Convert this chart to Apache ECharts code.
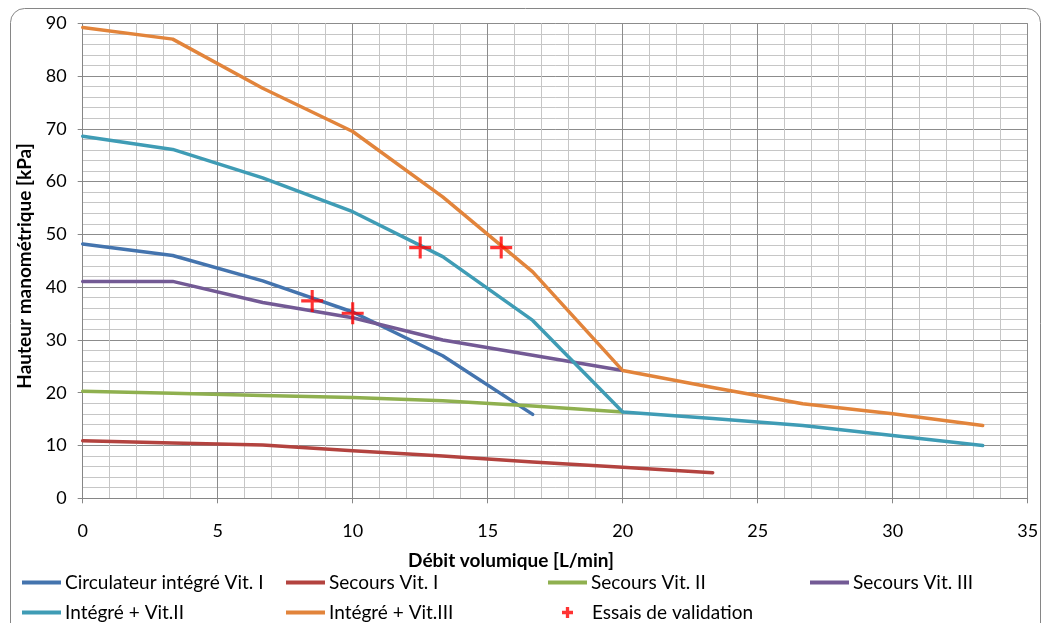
<!DOCTYPE html>
<html>
<head>
<meta charset="utf-8">
<script src="https://cdn.jsdelivr.net/npm/echarts@6/dist/echarts.min.js"></script>
<style>
html,body{margin:0;padding:0;background:#fff;}
#c{width:1050px;height:623px;}
</style>
</head>
<body>
<div id="c"></div>
<script>
// Flow rates (L/min)
const flow = [0, 3.333, 6.667, 10, 13.333, 16.667, 20, 23.333, 26.667, 30, 33.333];
// Head (kPa)
const circIntegreVitI = [48.2, 46.0, 41.2, 35.3, 27.0, 15.9];
const secoursVitI = [10.9, 10.5, 10.1, 9.0, 8.0, 6.9, 5.9, 4.85];
const secoursVitII = [20.3, 19.9, 19.5, 19.1, 18.5, 17.5, 16.35];
const secoursVitIII = [41.1, 41.1, 37.1, 34.2, 30.0, 27.1, 24.2];
const integreVitII = [68.6, 66.1, 60.7, 54.3, 45.8, 33.7, 16.35, 15.1, 13.8, 11.9, 10.0];
const integreVitIII = [89.2, 87.0, 77.7, 69.5, 57.1, 42.9, 24.2, 21.0, 17.9, 16.0, 13.8];
const essaisX = [8.5, 10.0, 12.5, 15.5];
const essaisY = [37.4, 35.05, 47.5, 47.5];

const xTicks = [0, 5, 10, 15, 20, 25, 30, 35];
const yTicks = [0, 10, 20, 30, 40, 50, 60, 70, 80, 90];

const names = ['Circulateur intégré Vit. I', 'Secours Vit. I', 'Secours Vit. II', 'Secours Vit. III',
               'Intégré + Vit.II', 'Intégré + Vit.III', 'Essais de validation'];
const colors = ['#4474ae', '#b3433f', '#8fb04f', '#735a95', '#3f9cb5', '#e2843b', '#ff0000'];

function pairs(xs, ys) { return ys.map((y, i) => [xs[i], y]); }

const FONT = 'Lato, "Open Sans", sans-serif';
const crossPath = 'path://M8.6,0h2.8v8.6h8.6v2.8h-8.6v8.6h-2.8v-8.6h-8.6v-2.8h8.6z';
const legendCross = 'path://M3.5,0h3v3.5h3.5v3h-3.5v3.5h-3v-3.5h-3.5v-3h3.5z';

const lineData = [circIntegreVitI, secoursVitI, secoursVitII, secoursVitIII, integreVitII, integreVitIII];
const series = lineData.map((d, i) => ({
  name: names[i],
  type: 'line',
  data: pairs(flow, d),
  showSymbol: false,
  symbol: 'none',
  z: 2 + i,
  lineStyle: { color: colors[i], width: 3.5, cap: 'round', join: 'round' },
  itemStyle: { color: colors[i] }
}));
series.push({
  name: names[6],
  type: 'scatter',
  data: pairs(essaisX, essaisY),
  symbol: crossPath,
  symbolSize: 22,
  z: 10,
  itemStyle: { color: colors[6] }
});

const LEG_FS = 19;
const legendPos = [
  { left: 22, top: 573 },
  { left: 286, top: 573 },
  { left: 548, top: 573 },
  { left: 810, top: 573 },
  { left: 22, top: 603 },
  { left: 286, top: 603 },
];
const legends = legendPos.map((p, i) => ({
  data: [names[i]],
  left: p.left, top: p.top,
  icon: 'rect', itemWidth: 39, itemHeight: 4, itemGap: 0,
  padding: 0,
  textStyle: { fontFamily: FONT, fontSize: LEG_FS, color: '#000', padding: [0, 0, 0, -1] }
}));
legends.push({
  data: [{ name: names[6], icon: legendCross }],
  left: 562, top: 603,
  itemWidth: 11, itemHeight: 11, padding: 0,
  textStyle: { fontFamily: FONT, fontSize: LEG_FS, color: '#000', padding: [0, 0, 0, 14] }
});

const chart = echarts.init(document.getElementById('c'), null, { renderer: 'canvas' });
chart.setOption({
  animation: false,
  backgroundColor: '#fff',
  grid: { left: 82.7, right: 22.3, top: 23.3, bottom: 124.7, containLabel: false },
  xAxis: {
    type: 'value', min: xTicks[0], max: xTicks[xTicks.length - 1], interval: 5,
    axisLine: { show: true, lineStyle: { color: '#868686', width: 1 } },
    axisTick: { show: true, length: 5, inside: false, lineStyle: { color: '#868686' } },
    axisLabel: { fontFamily: FONT, fontSize: 18, color: '#000', margin: 24 },
    splitLine: { show: true, lineStyle: { color: '#8c8c8c', width: 1 } },
    minorTick: { show: false, splitNumber: 5 },
    minorSplitLine: { show: true, lineStyle: { color: '#c6c6c6', width: 1 } }
  },
  yAxis: {
    type: 'value', min: yTicks[0], max: yTicks[yTicks.length - 1], interval: 10,
    axisLine: { show: true, lineStyle: { color: '#868686', width: 1 } },
    axisTick: { show: true, length: 5, inside: false, lineStyle: { color: '#868686' } },
    axisLabel: { fontFamily: FONT, fontSize: 18, color: '#000', margin: 16 },
    splitLine: { show: true, lineStyle: { color: '#8c8c8c', width: 1 } },
    minorTick: { show: false, splitNumber: 5 },
    minorSplitLine: { show: true, lineStyle: { color: '#c6c6c6', width: 1 } }
  },
  legend: legends,
  series: series,
  graphic: [
    { type: 'rect', shape: { x: 10.5, y: 8.5, width: 1030, height: 640, r: 14 },
      style: { fill: 'none', stroke: '#868686', lineWidth: 1 }, z: -1, silent: true },
    { type: 'text', x: 511, y: 561,
      style: { text: 'Débit volumique [L/min]', x: 0, y: 0, align: 'center', verticalAlign: 'middle',
               font: 'bold 19px ' + FONT, fill: '#000' } },
    { type: 'text', x: 25, y: 266, rotation: Math.PI / 2,
      style: { text: 'Hauteur manométrique [kPa]', x: 0, y: 0, align: 'center', verticalAlign: 'middle',
               font: 'bold 19px ' + FONT, fill: '#000' } }
  ]
});
</script>
</body>
</html>
